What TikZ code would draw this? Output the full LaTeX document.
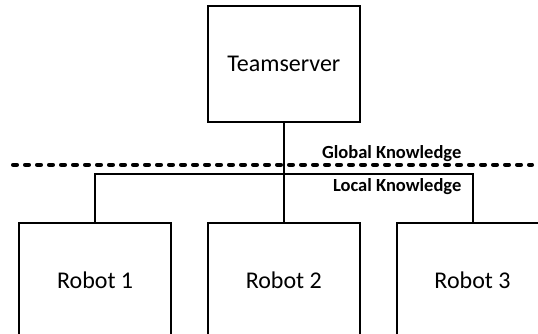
\documentclass[tikz,border=0pt]{standalone}
\usepackage{fontspec}
\setmainfont{Carlito}
\begin{document}
\begin{tikzpicture}[x=1pt,y=-1pt,
  box/.style={draw=black,line width=2pt,inner sep=0pt,minimum width=151.6pt,minimum height=115.6pt,font=\fontsize{24}{28}\selectfont},
  conn/.style={draw=black,line width=2pt},
  dashline/.style={draw=black,line width=4pt,line cap=round,dash pattern=on 4pt off 8pt},
  lbl/.style={inner sep=0pt,font=\bfseries\fontsize{18.5}{22}\selectfont}]
\useasboundingbox (0,0) rectangle (538,333);
\clip (0,0) rectangle (538,333);
\node[box] (ts) at (283.8,64) {Teamserver};
\node[box] (r1) at (95.1,280.6) {Robot 1};
\node[box] (r2) at (283.8,280.6) {Robot 2};
\node[box] (r3) at (472.5,280.6) {Robot 3};
\coordinate (bus) at (0,174.2);
\coordinate (dl) at (13,164.7);
\coordinate (dr) at (532,164.7);
\draw[dashline] (dl) -- (dr);
\draw[conn] (ts.south) -- (r2.north);
\draw[conn] (r1.north) -- (r1.north |- bus) -- (r3.north |- bus) -- (r3.north);
\node[lbl,anchor=base east] (gk) at (461.5,158.3) {Global Knowledge};
\node[lbl,anchor=base east] (lk) at (461.5,191.7) {Local Knowledge};
\end{tikzpicture}
\end{document}
